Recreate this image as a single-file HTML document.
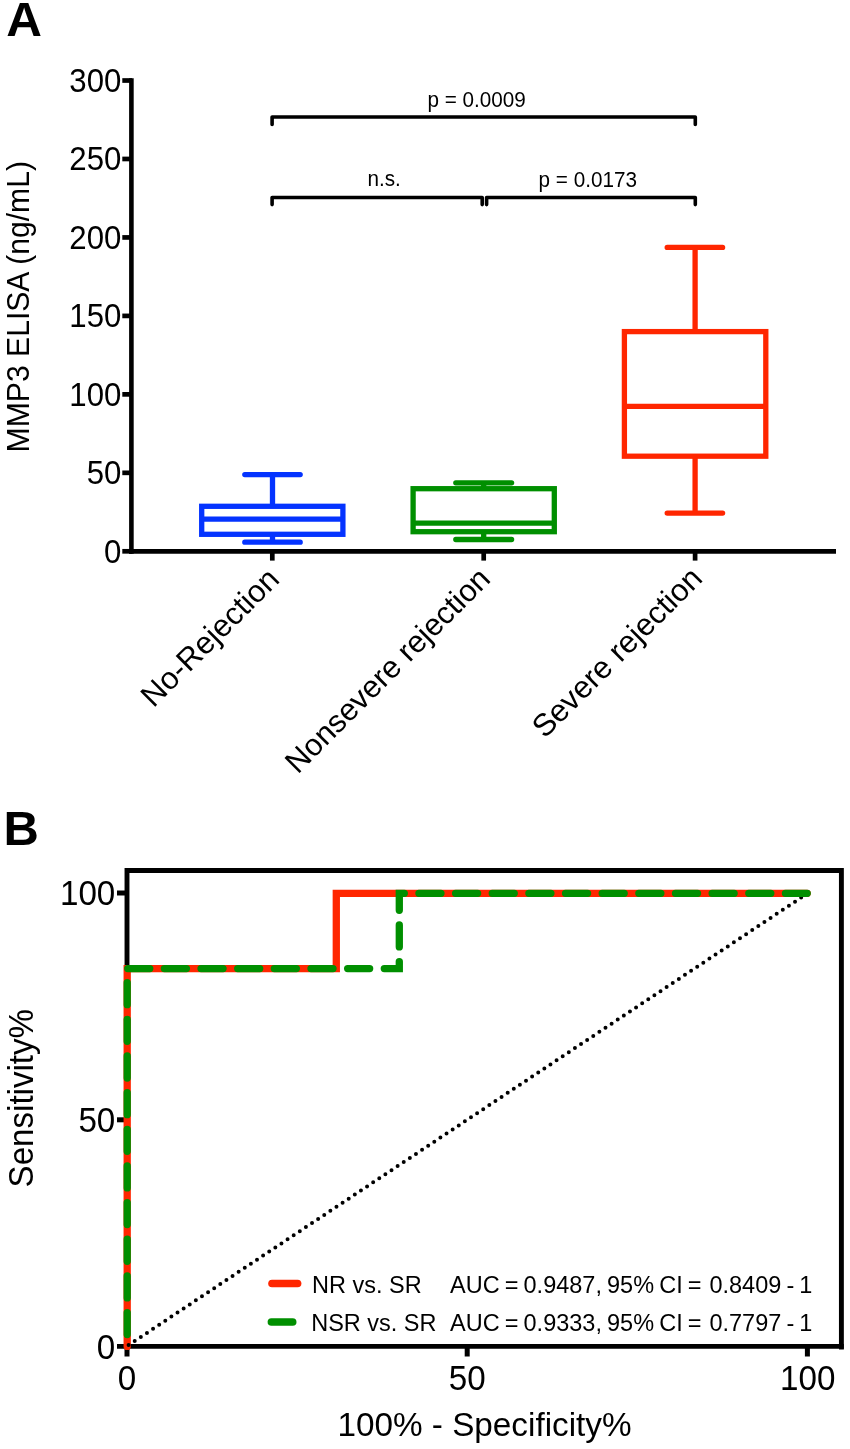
<!DOCTYPE html>
<html lang="en">
<head>
<meta charset="utf-8">
<title>MMP3 ELISA and ROC</title>
<style>
html,body{margin:0;padding:0;background:#fff;}
svg{display:block;will-change:transform;}
text{font-family:"Liberation Sans",sans-serif;fill:#000;}
</style>
</head>
<body>
<svg width="850" height="1449" viewBox="0 0 850 1449">
<rect width="850" height="1449" fill="#fff"/>

<!-- Panel A -->
<text transform="translate(6.2 35.8) scale(1.03 1.0)" font-size="48" font-weight="bold">A</text>
<g stroke="#000" fill="none">
<path d="M131.4 78.2V553.7" stroke-width="4.6"/>
<path d="M129.1 551.3H836" stroke-width="4.8"/>
<g stroke-width="4.7">
<path d="M122.3 551.3H132"/>
<path d="M122.3 472.83H132"/>
<path d="M122.3 394.37H132"/>
<path d="M122.3 315.9H132"/>
<path d="M122.3 237.44H132"/>
<path d="M122.3 158.97H132"/>
<path d="M122.3 80.51H132"/>
<path d="M272.3 553V560.6"/>
<path d="M483.7 553V560.6"/>
<path d="M695.1 553V560.6"/>
</g></g>
<text transform="translate(121.4 562.6) scale(1 1.045)" font-size="31.2" text-anchor="end">0</text>
<text transform="translate(121.4 484.13) scale(1 1.045)" font-size="31.2" text-anchor="end">50</text>
<text transform="translate(121.4 405.67) scale(1 1.045)" font-size="31.2" text-anchor="end">100</text>
<text transform="translate(121.4 327.2) scale(1 1.045)" font-size="31.2" text-anchor="end">150</text>
<text transform="translate(121.4 248.74) scale(1 1.045)" font-size="31.2" text-anchor="end">200</text>
<text transform="translate(121.4 170.27) scale(1 1.045)" font-size="31.2" text-anchor="end">250</text>
<text transform="translate(121.4 91.81) scale(1 1.045)" font-size="31.2" text-anchor="end">300</text>
<text transform="translate(28.6 306.7) rotate(-90) scale(0.995 1.05)" font-size="30.3" text-anchor="middle">MMP3 ELISA (ng/mL)</text>
<g stroke="#000" stroke-width="3.6" fill="none" stroke-linejoin="round" stroke-linecap="round">
<path d="M272.1 124.4V117H695.3V124.4"/>
<path d="M272.1 204.6V197.5H482.2V204.6"/>
<path d="M486.6 204.6V197.5H695.3V204.6"/>
</g>
<text transform="translate(427.5 107.3) scale(1 1.03)" font-size="20.7">p = 0.0009</text>
<text transform="translate(367.5 186) scale(1 1.03)" font-size="20.7">n.s.</text>
<text transform="translate(538.6 187) scale(1 1.03)" font-size="20.7">p = 0.0173</text>
<g fill="none" stroke-width="5.3" stroke-linecap="round" stroke-linejoin="miter">
<g stroke="#0433FF">
<path d="M244.8 474.6H300.2M244.8 542.2H300.2"/>
<path d="M272.5 474.6V506.3M272.5 534.3V542.2" stroke-linecap="butt"/>
<rect x="201.7" y="506.3" width="141.2" height="28"/>
<path d="M201.7 519.1H342.9" stroke-linecap="butt"/>
</g>
<g stroke="#008F00">
<path d="M455.8 482.8H511.6M455.8 539.5H511.6"/>
<path d="M483.7 482.8V488.7M483.7 531.7V539.5" stroke-linecap="butt"/>
<rect x="413.1" y="488.7" width="141.2" height="43"/>
<path d="M413.1 523.2H554.3" stroke-linecap="butt"/>
</g>
<g stroke="#FF2600">
<path d="M667.2 247.4H722.6M667.2 513.1H722.6"/>
<path d="M695.1 247.4V331.6M695.1 456.2V513.1" stroke-linecap="butt"/>
<rect x="624.4" y="331.6" width="141.4" height="124.6"/>
<path d="M624.4 406.3H765.8" stroke-linecap="butt"/>
</g>
</g>
<text transform="translate(281 581) rotate(-45)" font-size="31.2" text-anchor="end">No-Rejection</text>
<text transform="translate(492 580.5) rotate(-45)" font-size="30.9" text-anchor="end">Nonsevere rejection</text>
<text transform="translate(704 580) rotate(-45)" font-size="31.2" text-anchor="end">Severe rejection</text>
<!-- Panel B -->
<text transform="translate(3.4 845.4) scale(1.02 1)" font-size="48" font-weight="bold">B</text>
<g stroke="#000" fill="none">
<path d="M127 1346.4V870.5H841.4V1349.4" stroke-width="4.9" stroke-linejoin="miter"/>
<path d="M117 1346.4H843.8" stroke-width="4.8"/>
<g stroke-width="5">
<path d="M117 893H127"/><path d="M117 1119.8H127"/>
<path d="M127 1346.4V1356.5"/><path d="M467.2 1346.4V1356.5"/><path d="M807.4 1346.4V1356.5"/>
</g>
</g>
<path d="M127.2 1346.4V968.6H336.3V893.3H807.2" stroke="#FF2600" stroke-width="7.3" fill="none" stroke-linecap="round" stroke-linejoin="miter"/>
<path d="M128.6 1345.1L807.25 893.5" stroke="#000" stroke-width="4" stroke-linecap="round" stroke-dasharray="0 7.3439" fill="none"/>
<path d="M127.2 1346.4V968.6H399.3V893.3H807.2" stroke="#008F00" stroke-width="7.3" fill="none" stroke-linecap="round" stroke-linejoin="miter" stroke-dasharray="22 14.65" stroke-dashoffset="24.8"/>
<text transform="translate(115.3 905.3) scale(1 1.045)" font-size="33.2" text-anchor="end">100</text>
<text transform="translate(115.3 1132) scale(1 1.045)" font-size="33.2" text-anchor="end">50</text>
<text transform="translate(115.3 1358.6) scale(1 1.045)" font-size="33.2" text-anchor="end">0</text>
<text transform="translate(127 1390) scale(1 1.045)" font-size="33.2" text-anchor="middle">0</text>
<text transform="translate(467.2 1390) scale(1 1.045)" font-size="33.2" text-anchor="middle">50</text>
<text transform="translate(807.8 1390) scale(1 1.045)" font-size="33.2" text-anchor="middle">100</text>
<text transform="translate(484.5 1435.6) scale(1 1.02)" font-size="33.3" text-anchor="middle">100% - Specificity%</text>
<text transform="translate(32.8 1098.2) rotate(-90) scale(1 1.07)" font-size="33.1" text-anchor="middle">Sensitivity%</text>
<path d="M272 1283.5H297.6" stroke="#FF2600" stroke-width="7.6" stroke-linecap="round" fill="none"/>
<path d="M271.4 1322H292.7" stroke="#008F00" stroke-width="7.6" stroke-linecap="round" fill="none"/>
<text transform="translate(312 1292.5) scale(1 1.03)" font-size="23.5">NR vs. SR</text>
<text transform="translate(450 1292.5) scale(1 1.03)" font-size="23.5" word-spacing="-1.4">AUC = 0.9487, 95% CI = <tspan dx="2.8">0.8409 - 1</tspan></text>
<text transform="translate(311.2 1331.2) scale(1 1.03)" font-size="23.5">NSR vs. SR</text>
<text transform="translate(450 1331.2) scale(1 1.03)" font-size="23.5" word-spacing="-1.4">AUC = 0.9333, 95% CI = <tspan dx="2.8">0.7797 - 1</tspan></text>
</svg>
</body>
</html>
